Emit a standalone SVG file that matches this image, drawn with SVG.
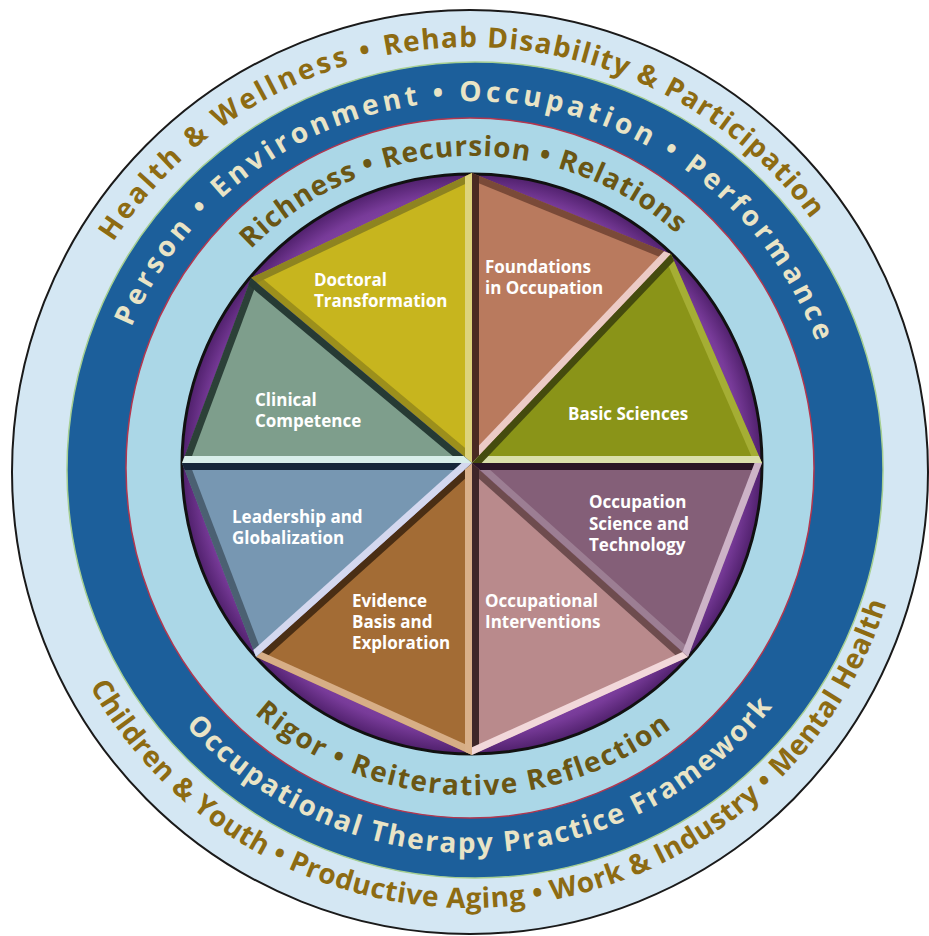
<svg xmlns="http://www.w3.org/2000/svg" xmlns:xlink="http://www.w3.org/1999/xlink" width="929" height="936" viewBox="0 0 929 936">
<style>
.arc{font-family:"Open Sans","Liberation Sans",sans-serif;font-weight:bold;font-size:28px;}
.outer{fill:#8D6B12;}
.blue{fill:#E9E4C6;}
.inner{fill:#6A5614;}
.lbl{font-family:"Open Sans","Liberation Sans",sans-serif;font-weight:bold;font-size:17px;fill:#FFFFFF;}
.edge{stroke-width:14;fill:none;}
</style>
<defs>
<radialGradient id="purp" cx="472" cy="464" r="291" gradientUnits="userSpaceOnUse">
<stop offset="0.8" stop-color="#9456B8"/>
<stop offset="0.93" stop-color="#783B99"/>
<stop offset="1" stop-color="#4E1F6A"/>
</radialGradient>
<polygon id="t1" points="472,463 251,278 472,173"/>
<polygon id="t2" points="472,463 472,173 671,254"/>
<polygon id="t3" points="472,463 671,254 762,463"/>
<polygon id="t4" points="472,463 762,463 688,657"/>
<polygon id="t5" points="472,463 688,657 472,755"/>
<polygon id="t6" points="472,463 472,755 256,657"/>
<polygon id="t7" points="472,463 256,657 182,463"/>
<polygon id="t8" points="472,463 182,463 251,278"/>
<clipPath id="c1"><use xlink:href="#t1"/></clipPath>
<clipPath id="c2"><use xlink:href="#t2"/></clipPath>
<clipPath id="c3"><use xlink:href="#t3"/></clipPath>
<clipPath id="c4"><use xlink:href="#t4"/></clipPath>
<clipPath id="c5"><use xlink:href="#t5"/></clipPath>
<clipPath id="c6"><use xlink:href="#t6"/></clipPath>
<clipPath id="c7"><use xlink:href="#t7"/></clipPath>
<clipPath id="c8"><use xlink:href="#t8"/></clipPath>
<path id="p-outer-top" d="M46.3,456.2 A424,424 0 0 1 889.9,412.0"/>
<path id="p-outer-bot" d="M41.0,554.4 A437,437 0 0 0 906.9,463.4"/>
<path id="p-blue-top" d="M105.4,427.3 A368,368 0 0 1 838.3,446.5"/>
<path id="p-blue-bot" d="M89.9,515.8 A384,384 0 0 0 854.5,489.1"/>
<path id="p-inner-top" d="M164.4,447.9 A308,308 0 0 1 777.7,426.5"/>
<path id="p-inner-bot" d="M142.0,490.0 A331,331 0 0 0 801.5,495.7"/>
</defs>

<g id="rings">
<ellipse cx="470" cy="472" rx="458" ry="462" fill="#D4E7F3" stroke="#1A1A1A" stroke-width="2"/>
<circle cx="475" cy="470" r="408" fill="#1C5F9B" stroke="#A6CF92" stroke-width="1.5"/>
<ellipse cx="470" cy="468" rx="344" ry="350" fill="#ABD7E7" stroke="#B4364E" stroke-width="1.5"/>
<circle cx="472" cy="464" r="290" fill="url(#purp)" stroke="#111111" stroke-width="3"/>
</g>

<g id="ring-texts">
<text class="arc outer"><textPath xlink:href="#p-outer-top" startOffset="227"><tspan letter-spacing="3">Health &amp; Wellness  • </tspan><tspan letter-spacing="1.2">Rehab Disability &amp; Participation</tspan></textPath></text>
<text class="arc outer" letter-spacing="0.5"><textPath xlink:href="#p-outer-bot" startOffset="50%" text-anchor="middle">Children &amp; Youth • Productive Aging • Work &amp; Industry • Mental Health</textPath></text>
<text class="arc blue" font-size="27" letter-spacing="4"><textPath xlink:href="#p-blue-top" startOffset="50%" text-anchor="middle">Person • Environment • Occupation • Performance</textPath></text>
<text class="arc blue" font-size="27" letter-spacing="1.9"><textPath xlink:href="#p-blue-bot" startOffset="50%" text-anchor="middle">Occupational Therapy Practice Framework</textPath></text>
<text class="arc inner" letter-spacing="0.9"><textPath xlink:href="#p-inner-top" startOffset="50%" text-anchor="middle">Richness • Recursion • Relations</textPath></text>
<text class="arc inner" letter-spacing="1.7"><textPath xlink:href="#p-inner-bot" startOffset="49.2%" text-anchor="middle">Rigor • Reiterative Reflection</textPath></text>
</g>

<g id="doctoral-transformation">
<g clip-path="url(#c1)">
<use xlink:href="#t1" fill="#C7B51E"/>
<path class="edge" d="M472,463 L251,278" stroke="#9C8F1C"/>
<path class="edge" d="M251,278 L472,173" stroke="#8E8420"/>
<path class="edge" d="M472,173 L472,463" stroke="#DDD37C"/>
</g>
<text class="lbl"><tspan x="314" y="286">Doctoral</tspan><tspan x="314" y="307">Transformation</tspan></text>
</g>

<g id="foundations-in-occupation">
<g clip-path="url(#c2)">
<use xlink:href="#t2" fill="#B97A5E"/>
<path class="edge" d="M472,173 L671,254" stroke="#7A4A38"/>
<path class="edge" d="M671,254 L472,463" stroke="#ECCBC6"/>
<path class="edge" d="M472,463 L472,173" stroke="#4A2A22"/>
</g>
<text class="lbl"><tspan x="485" y="273">Foundations</tspan><tspan x="485" y="294">in Occupation</tspan></text>
</g>

<g id="basic-sciences">
<g clip-path="url(#c3)">
<use xlink:href="#t3" fill="#8A9418"/>
<path class="edge" d="M671,254 L762,463" stroke="#A5AE34"/>
<path class="edge" d="M762,463 L472,463" stroke="#DADFAA"/>
<path class="edge" d="M472,463 L671,254" stroke="#454B0E"/>
</g>
<text class="lbl" x="568" y="420">Basic Sciences</text>
</g>

<g id="occupation-science-and-technology">
<g clip-path="url(#c4)">
<use xlink:href="#t4" fill="#845F78"/>
<path class="edge" d="M688,657 L472,463" stroke="#9C7E93"/>
<path class="edge" d="M472,463 L762,463" stroke="#2A1525"/>
<path class="edge" d="M762,463 L688,657" stroke="#CDB3C7"/>
</g>
<text class="lbl"><tspan x="589" y="508">Occupation</tspan><tspan x="589" y="530">Science and</tspan><tspan x="589" y="551">Technology</tspan></text>
</g>

<g id="occupational-interventions">
<g clip-path="url(#c5)">
<use xlink:href="#t5" fill="#B98A8C"/>
<path class="edge" d="M472,463 L688,657" stroke="#6E4C4E"/>
<path class="edge" d="M472,755 L472,463" stroke="#3E2628"/>
<path class="edge" d="M688,657 L472,755" stroke="#F2D8DA"/>
</g>
<text class="lbl"><tspan x="485" y="607">Occupational</tspan><tspan x="485" y="628">Interventions</tspan></text>
</g>

<g id="evidence-basis-and-exploration">
<g clip-path="url(#c6)">
<use xlink:href="#t6" fill="#A36C35"/>
<path class="edge" d="M256,657 L472,463" stroke="#4A2E14"/>
<path class="edge" d="M472,755 L256,657" stroke="#D7AE86"/>
<path class="edge" d="M472,463 L472,755" stroke="#D9B08A"/>
</g>
<text class="lbl"><tspan x="352" y="607">Evidence</tspan><tspan x="352" y="628">Basis and</tspan><tspan x="352" y="649">Exploration</tspan></text>
</g>

<g id="leadership-and-globalization">
<g clip-path="url(#c7)">
<use xlink:href="#t7" fill="#7797B2"/>
<path class="edge" d="M256,657 L182,463" stroke="#4B6072"/>
<path class="edge" d="M182,463 L472,463" stroke="#16263A"/>
<path class="edge" d="M472,463 L256,657" stroke="#D4D8EF"/>
</g>
<text class="lbl"><tspan x="232" y="523">Leadership and</tspan><tspan x="232" y="544">Globalization</tspan></text>
</g>

<g id="clinical-competence">
<g clip-path="url(#c8)">
<use xlink:href="#t8" fill="#7E9E8C"/>
<path class="edge" d="M182,463 L251,278" stroke="#2C4038"/>
<path class="edge" d="M251,278 L472,463" stroke="#263A34"/>
<path class="edge" d="M472,463 L182,463" stroke="#D8EEEA"/>
</g>
<text class="lbl"><tspan x="255" y="406">Clinical</tspan><tspan x="255" y="427">Competence</tspan></text>
</g>
</svg>
